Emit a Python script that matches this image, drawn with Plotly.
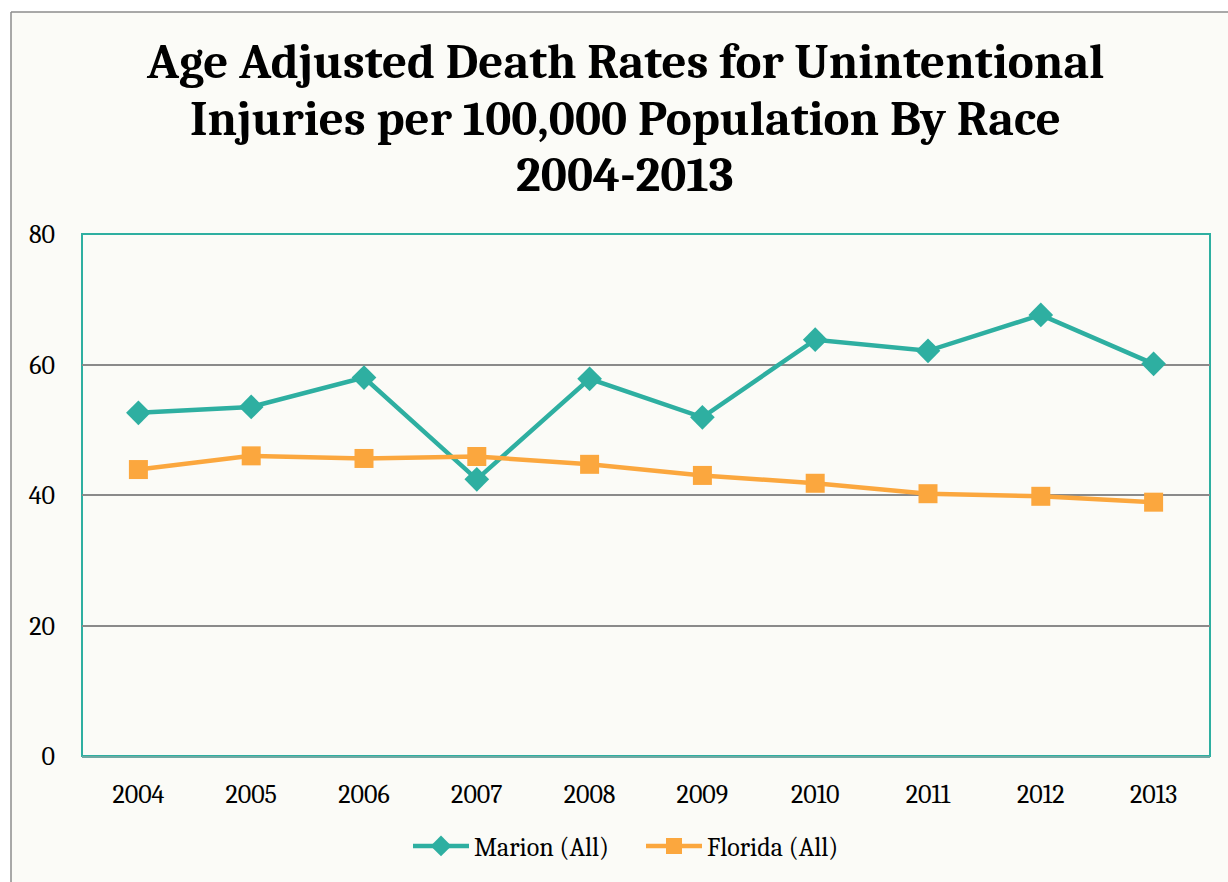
import plotly.graph_objects as go

years = ["2004", "2005", "2006", "2007", "2008", "2009", "2010", "2011", "2012", "2013"]
marion_all = [52.6, 53.5, 58.0, 42.4, 57.8, 51.9, 63.8, 62.1, 67.6, 60.1]
florida_all = [43.9, 46.0, 45.6, 45.9, 44.7, 43.0, 41.8, 40.2, 39.8, 38.9]
y_ticks = [0, 20, 40, 60, 80]
title_lines = [
    "Age Adjusted Death Rates for Unintentional",
    "Injuries per 100,000 Population By Race",
    "2004-2013",
]

TEAL = "#2EAFA1"
ORANGE = "#FBA73E"
BG = "#FBFBF7"
SERIF = "Cambria, Caladea, 'Liberation Serif', 'DejaVu Serif', serif"

# plot area in pixels: x 82..1210, y 234..756
L, R, T, B = 82, 1228 - 1210, 234, 882 - 756
W, H = 1228 - L - R, 882 - T - B


def px_to_paper_x(px):
    return (px - L) / W


def px_to_paper_y(py):
    return (882 - B - py) / H


fig = go.Figure()

fig.add_trace(go.Scatter(
    x=years, y=marion_all, name="Marion (All)",
    mode="lines+markers",
    line=dict(color=TEAL, width=4.5),
    marker=dict(symbol="diamond", size=19, color=TEAL),
))
fig.add_trace(go.Scatter(
    x=years, y=florida_all, name="Florida (All)",
    mode="lines+markers",
    line=dict(color=ORANGE, width=4.5),
    marker=dict(symbol="square", size=19, color=ORANGE),
))

shapes = [
    # white strips outside the chart box
    dict(type="rect", xref="paper", yref="paper", layer="below",
         x0=px_to_paper_x(-5), x1=px_to_paper_x(1240),
         y0=px_to_paper_y(12), y1=px_to_paper_y(-5),
         fillcolor="white", line=dict(width=0)),
    dict(type="rect", xref="paper", yref="paper", layer="below",
         x0=px_to_paper_x(-5), x1=px_to_paper_x(11),
         y0=px_to_paper_y(890), y1=px_to_paper_y(-5),
         fillcolor="white", line=dict(width=0)),
    # chart outer border (left and top)
    dict(type="line", xref="paper", yref="paper",
         x0=px_to_paper_x(11), x1=px_to_paper_x(1240),
         y0=px_to_paper_y(12), y1=px_to_paper_y(12),
         line=dict(color="#8C8C8C", width=1.5)),
    dict(type="line", xref="paper", yref="paper",
         x0=px_to_paper_x(11), x1=px_to_paper_x(11),
         y0=px_to_paper_y(12), y1=px_to_paper_y(890),
         line=dict(color="#8C8C8C", width=1.5)),
    # plot area border
    dict(type="rect", xref="paper", yref="paper", layer="below",
         x0=0, x1=1, y0=0, y1=1,
         line=dict(color=TEAL, width=2)),
]

# title as three lines with tight spacing
title_y = [62, 119, 175]
annotations = [
    dict(text=line, xref="paper", yref="paper",
         x=px_to_paper_x(625), y=px_to_paper_y(yy),
         xanchor="center", yanchor="middle", showarrow=False,
         font=dict(family=SERIF, size=49, color="black", weight="bold"))
    for line, yy in zip(title_lines, title_y)
]

fig.update_layout(
    width=1228, height=882,
    margin=dict(l=L, r=R, t=T, b=B),
    paper_bgcolor=BG,
    plot_bgcolor=BG,
    xaxis=dict(
        range=[-0.5, len(years) - 0.5],
        showgrid=False, showline=True, linecolor="#6FA9A3", linewidth=2,
        ticks="", tickfont=dict(family=SERIF, size=26, color="black"),
        ticklabelstandoff=14, fixedrange=True,
    ),
    yaxis=dict(
        range=[0, 80], tickvals=y_ticks, showgrid=True,
        gridcolor="#8A8A8A", gridwidth=1.5, zeroline=False,
        showline=False, ticks="",
        tickfont=dict(family=SERIF, size=26, color="black"),
        ticklabelstandoff=26,
    ),
    legend=dict(
        orientation="h", x=px_to_paper_x(408), xanchor="left",
        y=px_to_paper_y(846), yanchor="middle",
        font=dict(family=SERIF, size=26, color="black"),
        bgcolor="rgba(0,0,0,0)", itemwidth=56,
        entrywidth=162, entrywidthmode="pixels",
    ),
    shapes=shapes,
    annotations=annotations,
)

fig.write_html(
    "out.html",
    config={"displayModeBar": False},
    post_script="document.body.style.margin='0';",
)
